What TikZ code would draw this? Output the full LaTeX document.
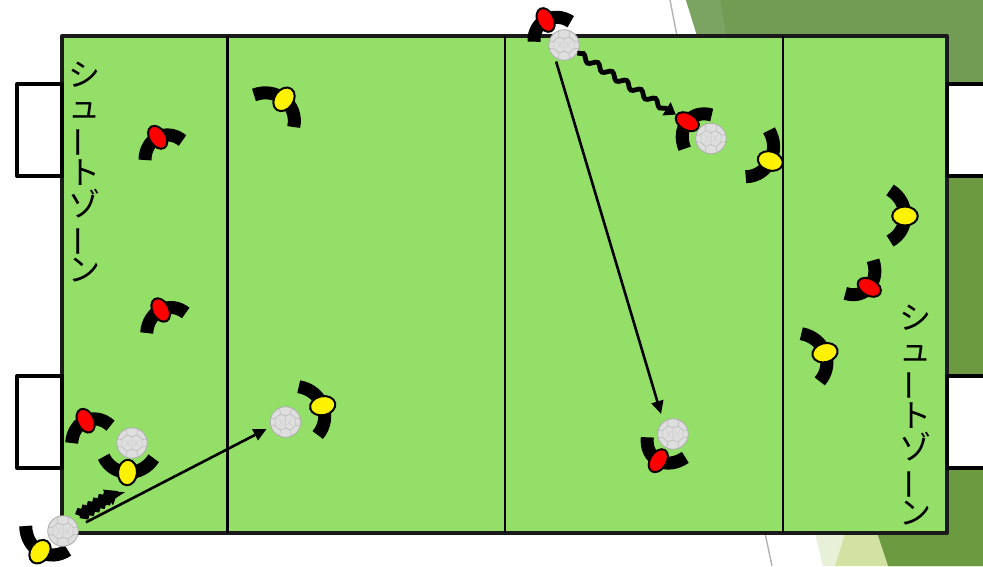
\documentclass[tikz,border=0pt]{standalone}
\usepackage{fontspec}
\usepackage{graphicx}
\newfontfamily\jpfont{Noto Sans CJK JP}
\usetikzlibrary{shapes.geometric,calc,arrows.meta,decorations.pathmorphing}
\definecolor{fieldg}{HTML}{93DF68}
\definecolor{darkA}{HTML}{729C53}
\definecolor{darkB}{HTML}{7BA362}
\definecolor{darkC}{HTML}{6C9A41}
\definecolor{paleA}{HTML}{E8F0D8}
\definecolor{paleB}{HTML}{D2E2A3}
\definecolor{linek}{HTML}{1A1A1A}
\definecolor{ballf}{HTML}{DEDEDE}
\definecolor{ballp}{HTML}{ADADAD}
\tikzset{
  goalbox/.style={draw=black,fill=white,line width=4pt,line join=round},
  divider/.style={draw=black,line width=2.8pt},
  armstroke/.style={draw=black,line width=13pt},
  bodyshape/.style={ellipse,draw=black,line width=2pt,inner sep=0pt},
  redbody/.style={bodyshape,fill=red,minimum width=25pt,minimum height=16.5pt},
  yellowbody/.style={bodyshape,fill=yellow,minimum width=25.5pt,minimum height=19pt},
  ballshape/.style={circle,draw=ballp,fill=ballf,line width=.8pt,minimum size=30.5pt,inner sep=0pt},
  passline/.style={draw=black,line width=2.6pt,-{Triangle[length=13pt,width=12pt]}},
  dribble/.style={draw=black,line width=4.8pt,-{Triangle[length=11pt,width=15pt]},decorate,decoration={snake,amplitude=3pt,segment length=17pt,post length=11pt}},
  shortdribble/.style={draw=black,line width=9.5pt,-{Triangle[length=12pt,width=18pt]},decorate,decoration={snake,amplitude=1.5pt,segment length=6.5pt,post length=9pt}},
  zonetext/.style={inner sep=0pt,align=center,font=\jpfont\fontsize{32}{31.8}\selectfont}
}
% name, ellipse centre, rotation, arm end A, arm end B, colour style
\newcommand\playerfig[6]{%
  \coordinate (#1-e) at (#2);
  \coordinate (#1-a) at (#4);
  \coordinate (#1-b) at (#5);
  \draw[armstroke] (#1-a) .. controls ($1.3333*(#1-e)+0.1133*(#1-a)-0.4467*(#1-b)$) and ($1.3333*(#1-e)-0.4467*(#1-a)+0.1133*(#1-b)$) .. (#1-b);
  \node[#6,rotate=#3] (#1) at (#1-e) {};
}
\newcommand\ballfig[2]{%
  \node[ballshape] (#1) at (#2) {};
  \begin{scope}[shift={(#2)},draw=ballp,line width=.4pt]
    \draw (0,-6)--(0,6) (0,-6)--(-5,-8)--(-10,-4)--(-10,4)--(-5,8)--(0,6)--(5,8)--(10,4)--(10,-4)--(5,-8)--(0,-6);
    \draw (-5,-8)--(-6,-14) (5,-8)--(6,-14) (-5,8)--(-6,14) (5,8)--(6,14) (-10,4)--(-15,3) (-10,-4)--(-15,-3) (10,4)--(15,3) (10,-4)--(15,-3);
    \draw[ballp!60] (-7,-4)--(-2,3) (-7,4)--(-2,-3) (7,-4)--(2,3) (7,4)--(2,-3);
  \end{scope}
}
\newcommand\zonelabel{シ\\ュ\\\rotatebox[origin=c]{90}{ー}\\ト\\ゾ\\\rotatebox[origin=c]{90}{ー}\\ン}
\begin{document}
\begin{tikzpicture}[x=1pt,y=-1pt]
\useasboundingbox (0,0) rectangle (983,566);
\fill[white] (0,0) rectangle (983,566);
% backdrop
\fill[darkA] (686,0) -- (983,0) -- (983,566) -- (888,566) -- (875,533) -- (697,33) -- cycle;
\fill[darkB] (686,0) -- (720,0) -- (726,36) -- (697,36) -- cycle;
\fill[darkC] (947,177) -- (983,177) -- (983,566) -- (888,566) -- (877,533) -- (947,533) -- cycle;
\fill[paleA] (815,533) -- (845,533) -- (835,566) -- (823,566) -- cycle;
\fill[paleB] (845,533) -- (877,533) -- (888,566) -- (835,566) -- cycle;
\draw[black!30,line width=1.4pt] (670,0) -- (677,36) (765,533) -- (772,566);
% field
\filldraw[fill=fieldg,draw=linek,line width=4pt,line join=round] (62,36) rectangle (947,533);
\draw[divider] (227.5,36) -- (227.5,533);
\draw[divider] (505,36) -- (505,533);
\draw[divider] (783,36) -- (783,533);
% goals
\draw[goalbox] (62,84) -- (17,84) -- (17,176) -- (62,176) -- cycle;
\draw[goalbox] (62,376) -- (17,376) -- (17,468) -- (62,468) -- cycle;
\draw[goalbox] (990,84) -- (947,84) -- (947,176) -- (990,176);
\draw[goalbox] (990,376) -- (947,376) -- (947,468) -- (990,468);
% zone labels
\node[zonetext] (zoneL) at (84,172) {\zonelabel};
\node[zonetext] (zoneR) at (915,415) {\zonelabel};
% players
\playerfig{r1}{85.7,420.7}{-65}{71.7,443}{110.5,425.7}{redbody}
\playerfig{y1}{127.5,472.5}{86}{103.7,456.7}{153.7,458.3}{yellowbody}
\playerfig{y2}{40,551.7}{55}{25.7,526}{67.7,550}{yellowbody}
\playerfig{r2}{157.7,137.3}{-58}{145,160}{182.5,140.5}{redbody}
\playerfig{r3}{160.7,310}{-62}{146.7,333}{185.7,313}{redbody}
\playerfig{y3}{284,99.3}{55}{254,95}{293.7,127}{yellowbody}
\playerfig{y4}{322.7,405.7}{12}{298.7,386.7}{317.7,435}{yellowbody}
\playerfig{r4}{545.7,20}{-65}{534,41.7}{570.7,21.7}{redbody}
\playerfig{r5}{687.3,121.7}{-30}{684.7,148.7}{711.7,115}{redbody}
\playerfig{y5}{770.3,161}{-18}{745.7,176.7}{769,130.3}{yellowbody}
\playerfig{y6}{905,216}{0}{890,190}{890,241}{yellowbody}
\playerfig{r6}{869.3,287.3}{-30}{845.3,293.3}{873,260.3}{redbody}
\playerfig{y7}{825,352.7}{15}{801.3,333.7}{819.7,381.3}{yellowbody}
\playerfig{r7}{658.3,460.7}{58}{647.3,437.3}{685.3,457.3}{redbody}
% balls
\ballfig{b1}{132,443}
\ballfig{b2}{63,531}
\ballfig{b3}{285.5,422}
\ballfig{b4}{564,45}
\ballfig{b5}{711,138.5}
\ballfig{b6}{673,434}
% connectors
\coordinate (t1) at (118,491);
\coordinate (s1) at ($(b2.47)!7pt!(t1)$);
\draw[passline,shorten <=9pt,shorten >=4.5pt] (b2.17) -- (b3.198);
\draw[passline,shorten <=3.8pt,shorten >=8pt] (b4.235) -- (b6.128);
\draw[dribble] (b4) -- (r5);
\draw[shortdribble] (s1) -- (t1);
\end{tikzpicture}
\end{document}
